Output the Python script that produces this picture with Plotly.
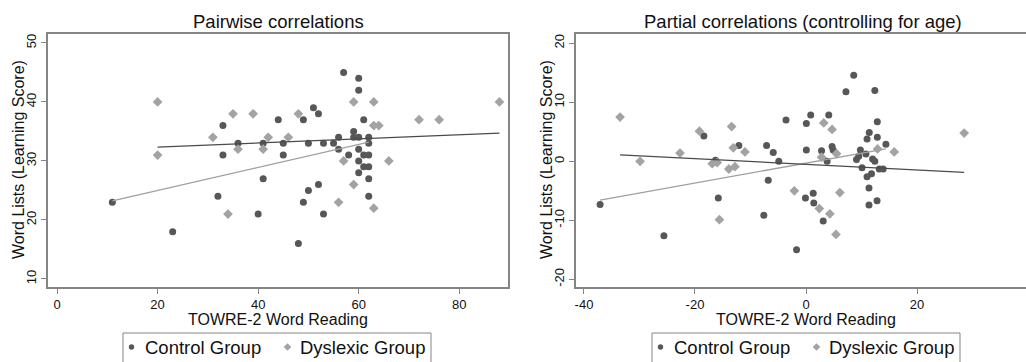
import numpy as np
import plotly.graph_objects as go

# ---- Pairwise panel: raw scores ----
ctrl_raw_x = [11, 23, 32, 33, 33, 36, 40, 41, 41, 44, 45, 45, 48, 49, 49, 50, 50, 51, 52, 52,
              53, 53, 55, 56, 56, 57, 58, 59, 59, 60, 60, 60, 60, 60, 60, 61, 61, 61, 62, 62,
              62, 62, 62, 62]
ctrl_raw_y = [23, 18, 24, 36, 31, 33, 21, 33, 27, 37, 33, 31, 16, 37, 23, 33, 25, 39, 38, 26,
              33, 21, 33, 34, 32, 45, 31, 35, 34, 44, 42, 34, 32, 30, 28, 37, 31, 29, 34, 33,
              31, 29, 27, 24]
dys_raw_x = [20, 20, 31, 34, 35, 36, 39, 41, 42, 46, 48, 56, 57, 59, 59, 63, 63, 64, 63, 66,
             72, 76, 88]
dys_raw_y = [40, 31, 34, 21, 38, 32, 38, 32, 34, 34, 38, 23, 30, 40, 26, 40, 36, 36, 22, 30,
             37, 37, 40]

# ---- Partial panel: residuals after controlling for age ----
ctrl_res_x = [-37.1, -25.6, -18.4, -16.3, -15.8, -12.1, -7.6, -7.1, -6.8, -5.9, -4.9, -3.6,
              -1.7, 0.06, 0.85, 0.06, -0.1, 1.3, 1.4, 2.8, 3.1, 3.8, 4.1, 4.7, 4.9, 7.2, 8.6,
              9.1, 9.5, 9.8, 10.1, 10.8, 11.0, 11.0, 11.35, 11.35, 11.4, 11.8, 12.0, 12.4, 12.4,
              12.8, 12.85, 12.85, 13.2, 13.9, 14.4]
ctrl_res_y = [-7.3, -12.6, 4.3, 0.2, -6.2, 2.7, -9.15, 2.7, -3.2, 1.5, 0.0, 7.0,
              -15.0, 6.4, 7.85, 1.9, -6.2, -5.4, -7.05, 1.8, -10.1, 0.0, 7.85, 2.5, 1.9, 11.8, 14.6,
              0.3, 0.85, 1.9, -1.1, 1.25, 3.8, -2.6, -4.5, -7.4, 4.9, -2.1, 0.4, 12.0, 0.0,
              -6.7, 6.7, 4.1, -1.3, -1.3, 2.9]
dys_res_x = [-33.5, -29.9, -22.7, -19.2, -16.9, -16.0, -15.6, -13.9, -13.4, -13.1, -12.8, -11.0,
             -2.1, 2.4, 2.8, 3.2, 4.3, 4.7, 5.4, 5.5, 6.1, 12.9, 15.9, 28.5]
dys_res_y = [7.5, 0.0, 1.4, 5.1, -0.4, -0.2, -9.9, -1.3, 5.9, 2.3, -0.9, 1.6,
             -5.0, -8.0, 0.7, 6.5, -8.9, 5.4, -12.4, 1.3, -5.3, 2.1, 1.6, 4.8]

# ---- tick positions and labels ----
raw_x_ticks = [0, 20, 40, 60, 80]
raw_y_ticks = [10, 20, 30, 40, 50]
res_x_ticks = [-40, -20, 0, 20]
res_x_labels = ["-40", "-20", "0", "20"]
res_y_ticks = [-20, -10, 0, 10, 20]
res_y_labels = ["-20", "-10", "0", "10", "20"]

group_names = ["Control Group", "Dyslexic Group"]
panel_titles = ["Pairwise correlations", "Partial correlations (controlling for age)"]
x_title = "TOWRE-2 Word Reading"
y_title = "Word Lists (Learning Score)"

W, H = 1026, 362
FONT = "Liberation Sans, Arial, sans-serif"
TEXT = "#111111"
CTRL_COL = "#575757"
DYS_COL = "#a3a3a3"
CTRL_FIT = "#a0a0a0"
DYS_FIT = "#4a4a4a"
FRAME = "#858585"


def px_x(p):
    return p / W


def px_y(p):
    return 1 - p / H


def fit_line(xs, ys):
    xs = np.asarray(xs, float)
    ys = np.asarray(ys, float)
    b, a = np.polyfit(xs, ys, 1)
    xe = np.array([xs.min(), xs.max()])
    return xe, a + b * xe


fig = go.Figure()

panels = [
    (ctrl_raw_x, ctrl_raw_y, dys_raw_x, dys_raw_y, "x", "y"),
    (ctrl_res_x, ctrl_res_y, dys_res_x, dys_res_y, "x2", "y2"),
]
for cx, cy, dx, dy, xa, ya in panels:
    fig.add_trace(go.Scatter(x=cx, y=cy, mode="markers", name=group_names[0],
                             xaxis=xa, yaxis=ya, showlegend=False,
                             marker=dict(symbol="circle", size=7, color=CTRL_COL,
                                         line=dict(width=0))))
    fig.add_trace(go.Scatter(x=dx, y=dy, mode="markers", name=group_names[1],
                             xaxis=xa, yaxis=ya, showlegend=False,
                             marker=dict(symbol="diamond", size=7.5, color=DYS_COL,
                                         line=dict(width=0))))
    fx, fy = fit_line(cx, cy)
    fig.add_trace(go.Scatter(x=fx, y=fy, mode="lines", showlegend=False,
                             xaxis=xa, yaxis=ya, hoverinfo="skip",
                             line=dict(color=CTRL_FIT, width=1.3)))
    fx, fy = fit_line(dx, dy)
    fig.add_trace(go.Scatter(x=fx, y=fy, mode="lines", showlegend=False,
                             xaxis=xa, yaxis=ya, hoverinfo="skip",
                             line=dict(color=DYS_FIT, width=1.3)))

axis_common = dict(showgrid=False, zeroline=False, showline=True, linecolor=FRAME,
                   linewidth=1.6, ticks="outside", ticklen=5, tickwidth=1.2,
                   tickcolor=FRAME, tickfont=dict(size=13, color=TEXT, family=FONT),
                   automargin=False)

y_dom = [px_y(287), px_y(34)]
fig.update_layout(
    width=W, height=H,
    margin=dict(l=0, r=0, t=0, b=0, autoexpand=False),
    paper_bgcolor="white", plot_bgcolor="white",
    font=dict(family=FONT, color=TEXT),
    showlegend=False,
    xaxis=dict(domain=[px_x(48), px_x(508)], range=[-1.8, 89.7], tickvals=raw_x_ticks,
               mirror=True, anchor="y", **axis_common),
    yaxis=dict(domain=y_dom, range=[8.64, 51.52], tickvals=raw_y_ticks,
               tickangle=-90, mirror=True, anchor="x", **axis_common),
    xaxis2=dict(domain=[px_x(576), 1.0], range=[-41.44, 39.64], tickvals=res_x_ticks,
                ticktext=res_x_labels, mirror=True, anchor="y2", **axis_common),
    yaxis2=dict(domain=y_dom, range=[-21.3, 21.58], tickvals=res_y_ticks,
                ticktext=res_y_labels, tickangle=-90, mirror=False, anchor="x2",
                **axis_common),
)

# panel titles and axis titles
for cx_px, title in zip([278, 803], panel_titles):
    fig.add_annotation(text=title, x=px_x(cx_px), y=px_y(22), xref="paper", yref="paper",
                       xanchor="center", yanchor="middle", showarrow=False,
                       font=dict(size=18.5, family=FONT, color=TEXT))
for cx_px in [278, 806]:
    fig.add_annotation(text=x_title, x=px_x(cx_px), y=px_y(319), xref="paper", yref="paper",
                       xanchor="center", yanchor="middle", showarrow=False,
                       font=dict(size=16, family=FONT, color=TEXT))
for cx_px in [18, 546]:
    fig.add_annotation(text=y_title, x=px_x(cx_px), y=px_y(160), xref="paper", yref="paper",
                       xanchor="center", yanchor="middle", showarrow=False, textangle=-90,
                       font=dict(size=16, family=FONT, color=TEXT))

# boxed key under each panel: dot / diamond swatches with group names
LEG_TOP, LEG_MID = 333, 347
for box_left in [123, 652]:
    fig.add_shape(type="rect", xref="paper", yref="paper",
                  x0=px_x(box_left), x1=px_x(box_left + 308), y0=px_y(LEG_TOP), y1=px_y(380),
                  line=dict(color=FRAME, width=1), fillcolor="white", layer="above")
    cxp = box_left + 8.5
    r = 2.7
    fig.add_shape(type="circle", xref="paper", yref="paper",
                  x0=px_x(cxp - r), x1=px_x(cxp + r), y0=px_y(LEG_MID + r), y1=px_y(LEG_MID - r),
                  line=dict(width=0), fillcolor=CTRL_COL, layer="above")
    dxp = box_left + 164.5
    d = 3.8
    path = (f"M {px_x(dxp - d)},{px_y(LEG_MID)} L {px_x(dxp)},{px_y(LEG_MID - d)} "
            f"L {px_x(dxp + d)},{px_y(LEG_MID)} L {px_x(dxp)},{px_y(LEG_MID + d)} Z")
    fig.add_shape(type="path", xref="paper", yref="paper", path=path,
                  line=dict(width=0), fillcolor=DYS_COL, layer="above")
    for tx, name in zip([box_left + 20, box_left + 175], group_names):
        fig.add_annotation(text=name, x=px_x(tx), y=px_y(LEG_MID + 0.5), xref="paper",
                           yref="paper", xanchor="left", yanchor="middle", showarrow=False,
                           font=dict(size=18.5, family=FONT, color=TEXT))

fig.write_html("out.html")
